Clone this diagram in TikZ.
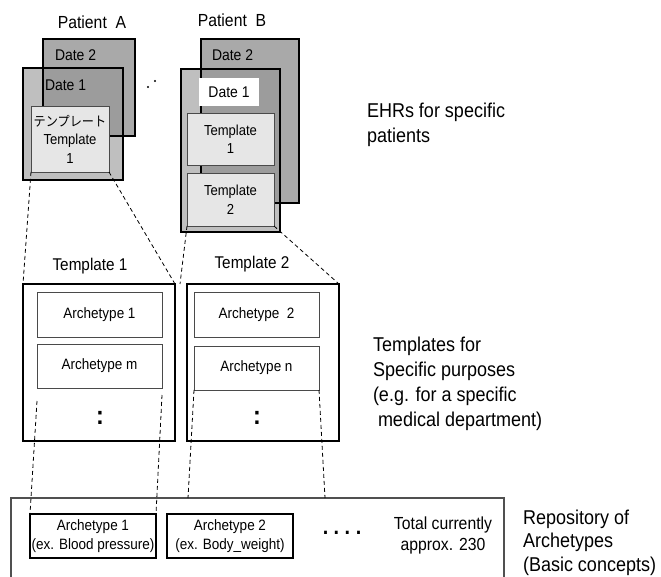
\documentclass[tikz,border=0pt]{standalone}
\usepackage{fontspec}
\setmainfont{Liberation Sans}[FakeStretch=0.9]
\newfontfamily\cjk{Noto Sans CJK JP}[FakeStretch=0.9]
\usetikzlibrary{calc}
\definecolor{dtwo}{HTML}{A9A9A9}
\definecolor{done}{HTML}{BFBFBF}
\definecolor{ovl}{HTML}{9C9C9C}
\definecolor{tmplfill}{HTML}{E6E6E6}
\definecolor{edge}{HTML}{4A4A4A}
\definecolor{repoedge}{HTML}{505050}
\newcommand\fsz[2]{\fontsize{#1}{#2}\selectfont}
\begin{document}
\begin{tikzpicture}[x=1pt,y=-1pt,
  box/.style={rectangle, inner sep=0pt, outer sep=0pt},
  datebox/.style={box, draw=black, line width=2.6pt},
  tmplbox/.style={box, draw=edge, line width=0.9pt, fill=tmplfill, align=center, font=\fsz{14.5}{18.5}},
  bigbox/.style={box, draw=black, line width=2.7pt},
  archbox/.style={box, draw=edge, line width=0.9pt, fill=white, font=\fsz{15}{18}},
  repoarch/.style={box, draw=black, line width=2.6pt, fill=white, align=center, font=\fsz{15}{19}},
  lbl/.style={inner sep=0pt, outer sep=0pt},
  datelbl/.style={lbl, anchor=west, font=\fsz{15.5}{18}},
  sidelbl/.style={lbl, anchor=west, align=left},
  hidden/.style={draw=black, line width=1.6pt},
  conn/.style={draw=black, line width=0.8pt, dash pattern=on 4pt off 3pt},
  colon/.style={lbl, font=\bfseries\fsz{26}{26}}
]
\useasboundingbox (0,0) rectangle (661,577);
\fill[white] (0,0) rectangle (661,577);

% ---------- Patient A ----------
\node[lbl, font=\fsz{17.5}{20}] (patA) at (92,22) {Patient\ \ A};
\node[datebox, fill=dtwo, minimum width=92pt, minimum height=97pt] (d2a) at (89,87.5) {};
\node[datelbl] (d2alab) at (55,55) {Date 2};
\node[datebox, fill=done, minimum width=100pt, minimum height=112pt] (d1a) at (73,124) {};
\fill[ovl] ($(d2a.west |- d1a.north)+(0,1.3)$) rectangle ($(d1a.east |- d2a.south)+(-1.3,0)$);
\draw[hidden] (d2a.west |- d1a.north) -- (d2a.south west) -- (d1a.east |- d2a.south);
\node[datelbl] (d1alab) at (45,85) {Date 1};
\node[tmplbox, minimum width=78pt, minimum height=66pt] (ta) at (70,139)
  {{\cjk\fsz{13.5}{18.5}テンプレート}\\Template\\1};

% dots between patients
\fill (148,87) circle (1.1pt);
\fill (155,81) circle (1.1pt);

% ---------- Patient B ----------
\node[lbl, font=\fsz{17.5}{20}] (patB) at (232,20) {Patient\ \ B};
\node[datebox, fill=dtwo, minimum width=98pt, minimum height=164pt] (d2b) at (250,121) {};
\node[datelbl] (d2blab) at (212,55) {Date 2};
\node[datebox, fill=done, minimum width=99pt, minimum height=163pt] (d1b) at (230.5,150.5) {};
\fill[ovl] ($(d2b.west |- d1b.north)+(0,1.3)$) rectangle ($(d1b.east |- d2b.south)+(-1.3,0)$);
\draw[hidden] (d2b.west |- d1b.north) -- (d2b.south west) -- (d1b.east |- d2b.south);
\node[box, fill=white, minimum width=60pt, minimum height=28pt, font=\fsz{15.5}{18}] (d1blab) at (229,92) {Date 1};
\node[tmplbox, minimum width=87pt, minimum height=52pt] (tb1) at (230.5,139) {Template\\1};
\node[tmplbox, minimum width=87pt, minimum height=53pt] (tb2) at (230.5,199.5) {Template\\2};

% ---------- Templates ----------
\node[lbl, font=\fsz{17}{20}] (t1lab) at (90,266) {Template 1};
\node[lbl, font=\fsz{17}{20}] (t2lab) at (252,264) {Template 2};
\node[bigbox, minimum width=152pt, minimum height=157pt] (t1) at (99,362.5) {};
\node[bigbox, minimum width=152pt, minimum height=157pt] (t2) at (263,362.5) {};
\node[archbox, minimum width=125pt, minimum height=45pt] (a1) at (99.5,314.5) {Archetype 1};
\node[archbox, minimum width=125pt, minimum height=44pt] (am) at (99.5,366) {Archetype m};
\node[archbox, minimum width=125pt, minimum height=45pt] (a2) at (256.5,314.5) {Archetype\ \ 2};
\node[archbox, minimum width=125pt, minimum height=44pt] (an) at (256.5,368) {Archetype n};
\node[colon] (c1) at (100,417.5) {:};
\node[colon] (c2) at (257,417.5) {:};

% ---------- Repository ----------
\node[box, draw=repoedge, line width=1.5pt, minimum width=493pt, minimum height=110pt, anchor=north west] (repo) at (11,498) {};
\node[repoarch, minimum width=126pt, minimum height=44pt] (ra1) at (93,536) {Archetype 1\\(ex. Blood pressure)};
\node[repoarch, minimum width=126pt, minimum height=44pt] (ra2) at (230,536) {Archetype 2\\(ex. Body\_weight)};
\node[lbl, font=\bfseries\fsz{22}{22}] (dots) at (342,533) {.\ .\ .\ .};
\node[lbl, align=center, font=\fsz{17.5}{21}] (total) at (443,535.5) {Total currently\\approx. 230};

% ---------- side labels ----------
\node[sidelbl, font=\fsz{20}{25}] (ehr) at (367,124.5) {EHRs for specific\\patients};
\node[sidelbl, font=\fsz{20}{25}] (tpl) at (373,384) {Templates for\\Specific purposes\\(e.g. for a specific\\\hspace*{5pt}medical department)};
\node[sidelbl, font=\fsz{20}{23.5}] (rep) at (523,542.5) {Repository of\\Archetypes\\(Basic concepts)};

% ---------- connectors ----------
\coordinate (t2l) at (180,284);
\coordinate (l1s) at (37,401);
\coordinate (l2s) at (162,395);
\coordinate (r3) at (188,498);
\coordinate (r4) at (325,498);
\draw[conn] (ta.south west) -- (t1.north west);
\draw[conn] (ta.south east) -- (t1.north east);
\draw[conn] (tb2.south west) -- (t2l);
\draw[conn] (tb2.south east) -- (t2.north east);
\draw[conn] (l1s) -- (ra1.north west);
\draw[conn] (l2s) -- (ra1.north east);
\draw[conn] (an.south west) -- (r3);
\draw[conn] (an.south east) -- (r4);
\end{tikzpicture}
\end{document}
